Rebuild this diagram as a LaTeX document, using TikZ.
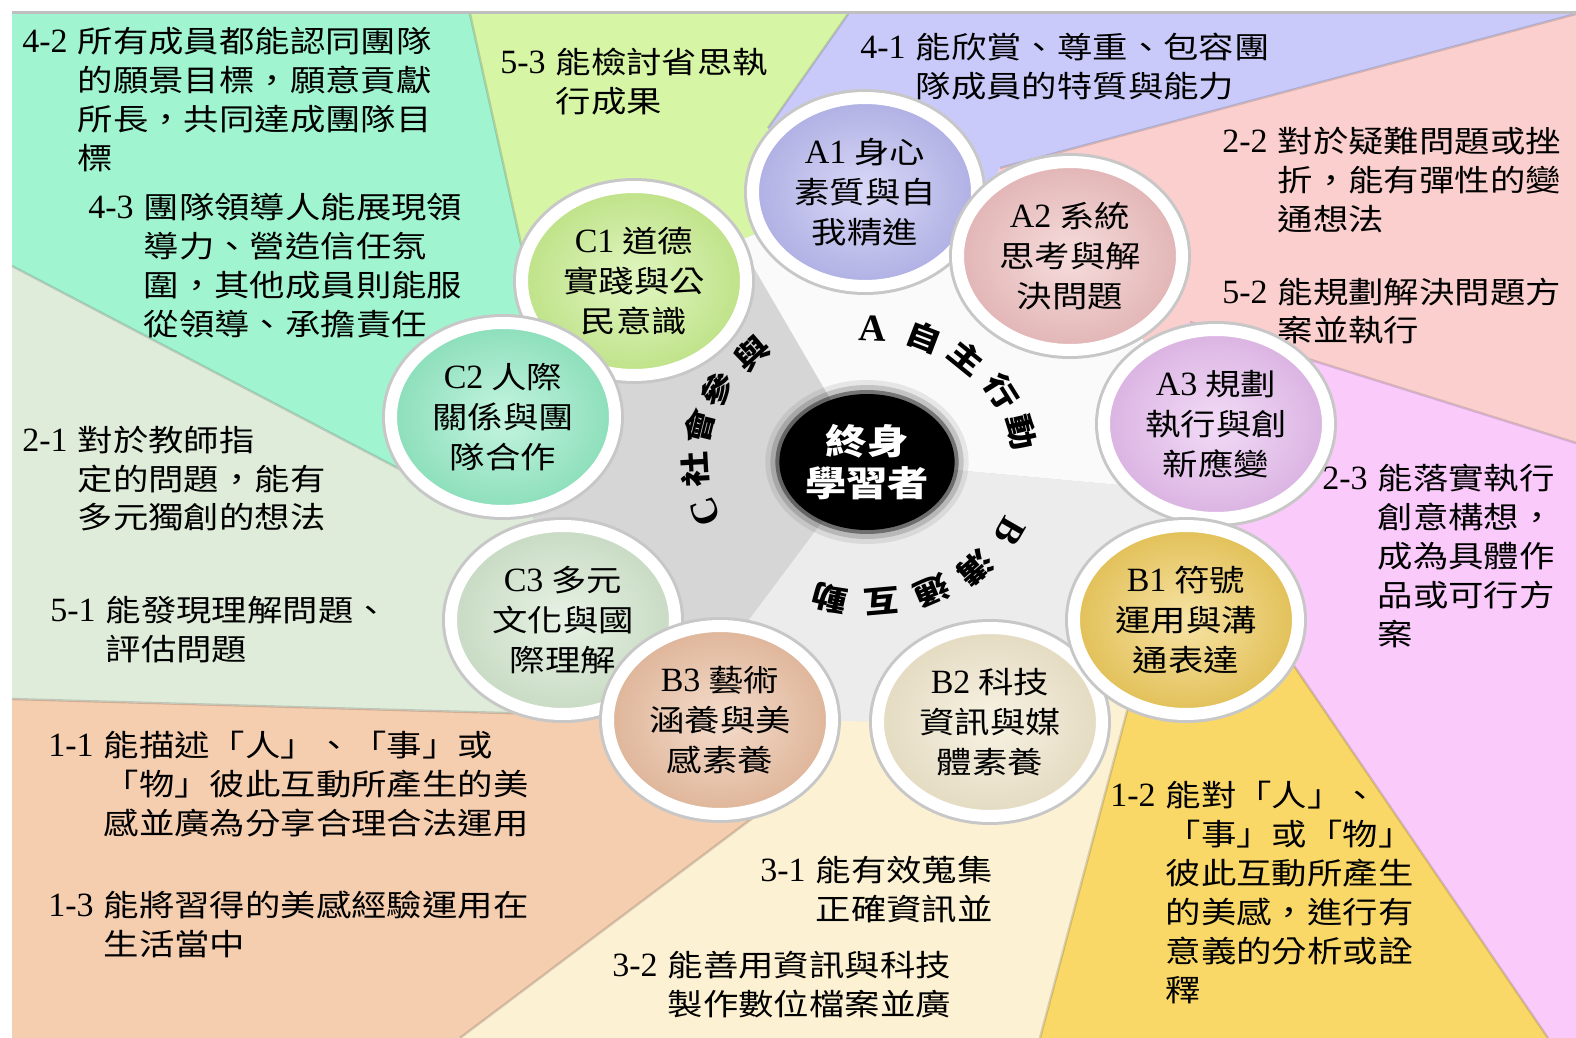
\documentclass[tikz,border=0pt]{standalone}
\usepackage{fontspec}
\setmainfont{Liberation Serif}
\newfontfamily\cjk{Noto Sans CJK TC}[FakeStretch=1.18]
\usetikzlibrary{shapes.geometric,calc}

\definecolor{teal42}{RGB}{160,245,208}
\definecolor{lime53}{RGB}{214,245,165}
\definecolor{lav41}{RGB}{202,202,250}
\definecolor{pink22}{RGB}{250,207,205}
\definecolor{mag23}{RGB}{250,202,250}
\definecolor{gold12}{RGB}{250,216,104}
\definecolor{cream31}{RGB}{252,241,210}
\definecolor{peach11}{RGB}{245,206,176}
\definecolor{sage21}{RGB}{223,236,217}
\definecolor{hubA}{RGB}{250,250,250}
\definecolor{hubB}{RGB}{236,236,236}
\definecolor{hubC}{RGB}{214,214,214}
\definecolor{discA1}{RGB}{186,186,242}
\definecolor{discA2}{RGB}{240,192,192}
\definecolor{discA3}{RGB}{232,190,240}
\definecolor{discB1}{RGB}{240,204,92}
\definecolor{discB2}{RGB}{242,232,205}
\definecolor{discB3}{RGB}{236,192,162}
\definecolor{discC3}{RGB}{212,232,207}
\definecolor{discC2}{RGB}{148,236,198}
\definecolor{discC1}{RGB}{202,240,144}

\newcommand{\gnum}[1]{{\rmfamily\fontsize{17}{19.5}\selectfont #1}}
\newcommand{\goal}[2]{\begin{tabular}[t]{@{}l@{\hspace{5pt}}l@{}}\gnum{#1} & #2\end{tabular}}

\begin{document}
\begin{tikzpicture}[x=0.5pt, y=-0.5pt,
    ball/.style={ellipse, draw=white, line width=6pt, inner sep=0pt,
        minimum width=112pt, minimum height=94pt, align=center,
        inner color=#1!55!white, outer color=#1!94!black,
        preaction={draw=black!22, line width=9pt},
        font=\cjk\fontsize{15}{20}\selectfont},
    core/.style={ellipse, fill=black, minimum width=82pt, minimum height=68pt,
        inner sep=0pt, text=white, align=center,
        preaction={draw=black, line width=14pt, opacity=0.08},
        preaction={draw=black, line width=9pt, opacity=0.15},
        preaction={draw=black, line width=4pt, opacity=0.4},
        font=\cjk\bfseries\fontsize{17.5}{21}\selectfont},
    goaltext/.style={anchor=base west, inner sep=0pt,
        font=\cjk\fontsize{15}{19.5}\selectfont},
    arcword/.style={inner sep=0pt, font=\cjk\bfseries\fontsize{15}{15}\selectfont},
    seam/.style={draw=black, opacity=0.15, line width=1.2pt}
]
    \useasboundingbox (0,0) rectangle (1576,1038);
    \clip (0,0) rectangle (1576,1038);
    \fill[white] (0,0) rectangle (1576,1038);

    % centre and wedge borders (outer end, inner bend)
    \coordinate (cen) at (867,462);
    \coordinate (o1) at (470,14);    \coordinate (m1) at (540,330);
    \coordinate (o2) at (848,14);    \coordinate (m2) at (768,128);
    \coordinate (o3) at (1576,14);   \coordinate (m3) at (1000,168);
    \coordinate (o4) at (1576,443);  \coordinate (m4) at (1190,322);
    \coordinate (o5) at (1548,1038); \coordinate (m5) at (1290,660);
    \coordinate (o6) at (1040,1038); \coordinate (m6) at (1130,700);
    \coordinate (o7) at (460,1038);  \coordinate (m7) at (790,790);
    \coordinate (o8) at (12,699);    \coordinate (m8) at (540,714);
    \coordinate (o9) at (12,266);    \coordinate (m9) at (430,485);

    \fill[teal42] (o9) -- (12,14) -- (o1) -- (m1) -- (cen) -- (m9) -- cycle;
    \fill[lime53] (o1) -- (o2) -- (m2) -- (cen) -- (m1) -- cycle;
    \fill[lav41] (o2) -- (o3) -- (m3) -- (cen) -- (m2) -- cycle;
    \fill[pink22] (o3) -- (o4) -- (m4) -- (cen) -- (m3) -- cycle;
    \fill[mag23] (o4) -- (1576,1038) -- (o5) -- (m5) -- (cen) -- (m4) -- cycle;
    \fill[gold12] (o5) -- (o6) -- (m6) -- (cen) -- (m5) -- cycle;
    \fill[cream31] (o6) -- (o7) -- (m7) -- (cen) -- (m6) -- cycle;
    \fill[peach11] (o7) -- (12,1038) -- (o8) -- (m8) -- (cen) -- (m7) -- cycle;
    \fill[sage21] (o8) -- (o9) -- (m9) -- (cen) -- (m8) -- cycle;
    \foreach \i in {1,...,9}
        \draw[seam] (o\i) -- (m\i);
    \draw[black!25, line width=1.5pt] (12,13) -- (1576,13);

    % disc centres
    \coordinate (pA1) at (865,192);
    \coordinate (pA2) at (1070,256);
    \coordinate (pA3) at (1216,424);
    \coordinate (pB1) at (1186,620);
    \coordinate (pB2) at (990,722);
    \coordinate (pB3) at (720,720);
    \coordinate (pC3) at (563,620);
    \coordinate (pC2) at (503,417);
    \coordinate (pC1) at (634,281);

    % inner hub
    \begin{scope}
        \clip (pA1) -- (pA2) -- (pA3) -- (pB1) -- (pB2) -- (pB3)
            -- (pC3) -- (pC2) -- (pC1) -- cycle;
        \fill[hubC] (0,0) rectangle (1576,1038);
        \fill[hubA] (cen) -- (547,-88) -- (1700,-88) -- (1700,538) -- cycle;
        \fill[hubB] (cen) -- (1700,538) -- (1700,1100) -- (390,1100) -- cycle;
    \end{scope}

    % outer goals
    \node[goaltext] (g42) at (22,53) {\goal{4-2}{所有成員都能認同團隊\\&的願景目標，願意貢獻\\&所長，共同達成團隊目\\&標}};
    \node[goaltext] (g43) at (88,219) {\goal{4-3}{團隊領導人能展現領\\&導力、營造信任氛\\&圍，其他成員則能服\\&從領導、承擔責任}};
    \node[goaltext] (g53) at (500,74) {\goal{5-3}{能檢討省思執\\&行成果}};
    \node[goaltext] (g41) at (860,59) {\goal{4-1}{能欣賞、尊重、包容團\\&隊成員的特質與能力}};
    \node[goaltext] (g22) at (1222,153) {\goal{2-2}{對於疑難問題或挫\\&折，能有彈性的變\\&通想法}};
    \node[goaltext] (g52) at (1222,303) {\goal{5-2}{能規劃解決問題方\\&案並執行}};
    \node[goaltext] (g23) at (1322,489) {\goal{2-3}{能落實執行\\&創意構想，\\&成為具體作\\&品或可行方\\&案}};
    \node[goaltext] (g12) at (1110,806) {\goal{1-2}{能對「人」、\\&「事」或「物」\\&彼此互動所產生\\&的美感，進行有\\&意義的分析或詮\\&釋}};
    \node[goaltext] (g31) at (760,881) {\goal{3-1}{能有效蒐集\\&正確資訊並}};
    \node[goaltext] (g32) at (612,976) {\goal{3-2}{能善用資訊與科技\\&製作數位檔案並廣}};
    \node[goaltext] (g11) at (48,756) {\goal{1-1}{能描述「人」、「事」或\\&「物」彼此互動所產生的美\\&感並廣為分享合理合法運用}};
    \node[goaltext] (g13) at (48,916) {\goal{1-3}{能將習得的美感經驗運用在\\&生活當中}};
    \node[goaltext] (g21) at (22,451) {\goal{2-1}{對於教師指\\&定的問題，能有\\&多元獨創的想法}};
    \node[goaltext] (g51) at (50,621) {\goal{5-1}{能發現理解問題、\\&評估問題}};

    % nine discs
    \node[ball=discC1] (c1) at (pC1) {\gnum{C1} 道德\\實踐與公\\民意識};
    \node[ball=discC2] (c2) at (pC2) {\gnum{C2} 人際\\關係與團\\隊合作};
    \node[ball=discC3] (c3) at (pC3) {\gnum{C3} 多元\\文化與國\\際理解};
    \node[ball=discB3] (b3) at (pB3) {\gnum{B3} 藝術\\涵養與美\\感素養};
    \node[ball=discB2] (b2) at (pB2) {\gnum{B2} 科技\\資訊與媒\\體素養};
    \node[ball=discA1] (a1) at (pA1) {\gnum{A1} 身心\\素質與自\\我精進};
    \node[ball=discA2] (a2) at (pA2) {\gnum{A2} 系統\\思考與解\\決問題};
    \node[ball=discA3] (a3) at (pA3) {\gnum{A3} 規劃\\執行與創\\新應變};
    \node[ball=discB1] (b1) at (pB1) {\gnum{B1} 符號\\運用與溝\\通表達};

    % centre and the three curved titles
    \node[core] (core) at (cen) {終身\\學習者};
    \foreach \ch/\a in {{\fontsize{19}{19}\rmfamily A}/88, 自/69, 主/51, 行/32, 動/13}
        \node[arcword, rotate=\a-90] at ($(cen)+({1.18*134*cos(\a)},{-134*sin(\a)})$) {\ch};
    \foreach \ch/\a in {{\fontsize{19}{19}\rmfamily B}/-30, 溝/-49, 通/-67, 互/-85, 動/-103}
        \node[arcword, rotate=\a-90] at ($(cen)+({1.18*140*cos(\a)},{-140*sin(\a)})$) {\ch};
    \foreach \ch/\a in {{\fontsize{19}{19}\rmfamily C}/200, 社/183, 會/166, 參/150, 與/132}
        \node[arcword, rotate=\a-90] at ($(cen)+({1.18*146*cos(\a)},{-146*sin(\a)})$) {\ch};
\end{tikzpicture}
\end{document}
